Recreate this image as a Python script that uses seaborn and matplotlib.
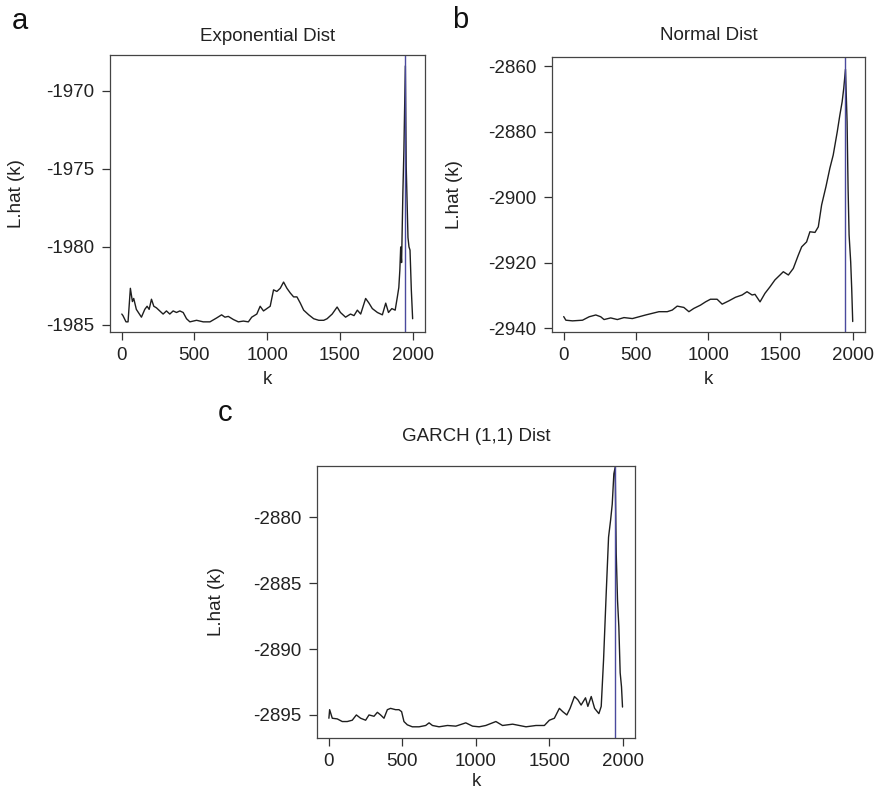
import numpy as np
import matplotlib
matplotlib.use("Agg")
import matplotlib.pyplot as plt
import seaborn as sns

# ---- data ----
# panel a: exponential
k_exp = [1, 9, 30, 44, 60, 74, 83, 101, 136, 159,
         175, 189, 205, 221, 239, 262, 285, 308, 331, 354,
         377, 400, 423, 446, 469, 515, 561, 607, 653, 687,
         710, 733, 768, 802, 837, 871, 894, 929, 952, 975,
         998, 1021, 1044, 1067, 1090, 1113, 1136, 1159, 1182, 1205,
         1228, 1251, 1286, 1320, 1355, 1389, 1412, 1447, 1481, 1504,
         1539, 1573, 1597, 1620, 1643, 1677, 1700, 1723, 1758, 1792,
         1815, 1834, 1857, 1880, 1895, 1905, 1912, 1918, 1924, 1933,
         1940, 1950, 1956, 1968, 1975, 1982, 1991, 2000]
l_exp = [-1984.3, -1984.4, -1984.8, -1984.8, -1982.65, -1983.5, -1983.3, -1984.0, -1984.5, -1984.0,
         -1983.8, -1984.0, -1983.35, -1983.8, -1983.9, -1984.1, -1984.3, -1984.1, -1984.3, -1984.1,
         -1984.2, -1984.1, -1984.2, -1984.6, -1984.8, -1984.7, -1984.8, -1984.8, -1984.55, -1984.35,
         -1984.5, -1984.45, -1984.65, -1984.8, -1984.75, -1984.8, -1984.5, -1984.3, -1983.8, -1984.1,
         -1983.95, -1983.8, -1982.75, -1982.85, -1982.65, -1982.25, -1982.65, -1982.95, -1983.2, -1983.2,
         -1983.6, -1984.05, -1984.35, -1984.6, -1984.7, -1984.7, -1984.6, -1984.3, -1983.85, -1984.2,
         -1984.5, -1984.3, -1984.4, -1984.05, -1984.3, -1983.3, -1983.6, -1983.95, -1984.2, -1984.35,
         -1983.6, -1984.2, -1983.95, -1984.05, -1983.2, -1982.6, -1981.5, -1980.0, -1981.0, -1976.5,
         -1973.8, -1968.4, -1974.9, -1979.4, -1980.0, -1980.2, -1982.75, -1984.6]

# panel b: normal
k_norm = [1, 16, 62, 131, 177, 223, 257, 280, 326, 372,
          418, 476, 522, 568, 614, 660, 717, 752, 786, 832,
          867, 901, 947, 982, 1016, 1062, 1097, 1143, 1189, 1235,
          1269, 1304, 1324, 1359, 1393, 1428, 1462, 1497, 1520, 1555,
          1589, 1624, 1647, 1681, 1704, 1739, 1762, 1785, 1815, 1842,
          1865, 1893, 1911, 1927, 1938, 1950, 1961, 1968, 1975, 1986,
          1993, 2000]
l_norm = [-2936.5, -2937.6, -2937.8, -2937.6, -2936.55, -2936.0, -2936.55, -2937.4, -2936.9, -2937.4,
          -2936.8, -2937.1, -2936.55, -2936.0, -2935.5, -2935.0, -2935.0, -2934.5, -2933.3, -2933.7,
          -2935.0, -2934.0, -2933.0, -2932.0, -2931.2, -2931.2, -2932.7, -2931.7, -2930.6, -2929.9,
          -2928.9, -2929.9, -2929.7, -2932.0, -2929.4, -2927.4, -2925.3, -2923.8, -2922.8, -2923.8,
          -2921.8, -2917.7, -2915.2, -2913.7, -2910.6, -2910.8, -2909.1, -2902.4, -2896.8, -2891.2,
          -2887.2, -2880.1, -2875.0, -2870.9, -2866.8, -2861.0, -2877.0, -2897.4, -2911.6, -2919.8,
          -2927.9, -2938.0]

# panel c: GARCH(1,1)
k_garch = [1, 6, 24, 58, 92, 126, 160, 188, 217, 251,
           274, 308, 331, 353, 376, 399, 421, 455, 478, 496,
           512, 535, 569, 615, 660, 683, 706, 751, 808, 865,
           933, 979, 1024, 1069, 1138, 1183, 1252, 1343, 1411, 1468,
           1502, 1536, 1570, 1593, 1621, 1643, 1673, 1696, 1718, 1748,
           1764, 1787, 1810, 1839, 1855, 1871, 1889, 1905, 1919, 1930,
           1941, 1950, 1957, 1966, 1975, 1984, 1993, 2000]
l_garch = [-2895.25, -2894.6, -2895.25, -2895.3, -2895.5, -2895.5, -2895.4, -2895.0, -2895.25, -2895.4,
           -2895.0, -2895.1, -2894.8, -2895.0, -2895.25, -2894.6, -2894.5, -2894.6, -2894.6, -2894.75,
           -2895.5, -2895.75, -2895.9, -2895.9, -2895.8, -2895.6, -2895.8, -2895.9, -2895.8, -2895.85,
           -2895.6, -2895.85, -2895.9, -2895.8, -2895.5, -2895.8, -2895.7, -2895.9, -2895.8, -2895.8,
           -2895.4, -2895.25, -2894.5, -2894.75, -2895.0, -2894.5, -2893.6, -2893.85, -2894.25, -2893.7,
           -2894.35, -2893.6, -2894.5, -2894.9, -2894.35, -2890.8, -2885.75, -2881.5, -2880.2, -2879.0,
           -2876.7, -2876.2, -2882.7, -2886.3, -2888.3, -2891.8, -2892.85, -2894.4]

k_hat = 1950  # estimated change point (blue line)

titles = ["Exponential Dist", "Normal Dist", "GARCH (1,1) Dist"]
letters = ["a", "b", "c"]
x_ticks = [0, 500, 1000, 1500, 2000]
y_ticks = [[-1970, -1975, -1980, -1985],
           [-2860, -2880, -2900, -2920, -2940],
           [-2880, -2885, -2890, -2895]]
y_lims = [(-1985.45, -1967.7), (-2941.2, -2857.25), (-2896.75, -2876.1)]

# ---- style ----
sns.set_style("ticks")
plt.rcParams["font.family"] = ["Liberation Sans", "DejaVu Sans"]
plt.rcParams["axes.unicode_minus"] = False

W, H = 877, 797
fig = plt.figure(figsize=(W / 100, H / 100), dpi=100)

# axes boxes in pixels: left, top, right, bottom
boxes = [(110, 55, 425, 332), (552, 57, 865, 332), (317, 466, 635, 738)]
ylab_x = [-0.27, -0.284, -0.29]
xlab_y = [-0.14, -0.14, -0.13]
title_pad = [10, 12, 18]
letter_pos = [(20, 21), (460, 20), (225, 413)]

series = [(k_exp, l_exp), (k_norm, l_norm), (k_garch, l_garch)]

for i, (kk, ll) in enumerate(series):
    l, t, r, b = boxes[i]
    ax = fig.add_axes([l / W, 1 - b / H, (r - l) / W, (b - t) / H])
    sns.lineplot(x=kk, y=ll, ax=ax, color="#1e1e1e", linewidth=1.0)
    ax.axvline(k_hat, color="#4a4a9e", linewidth=1.0)

    ax.set_xlim(-80, 2085)
    ax.set_ylim(*y_lims[i])
    ax.set_xticks(x_ticks)
    ax.set_yticks(y_ticks[i])
    ax.set_yticklabels([str(v) for v in y_ticks[i]])
    ax.tick_params(axis="both", direction="out", length=6, width=0.9,
                   pad=5, labelsize=13.5, color="#333333", labelcolor="#222222")
    for s in ax.spines.values():
        s.set_color("#444444")
        s.set_linewidth(0.9)

    ax.set_title(titles[i], fontsize=13.5, color="#222222", pad=title_pad[i])
    ax.set_xlabel("k", fontsize=13.5, color="#222222")
    ax.set_ylabel("L.hat (k)", fontsize=13.5, color="#222222")
    ax.xaxis.set_label_coords(0.5, xlab_y[i])
    ax.yaxis.set_label_coords(ylab_x[i], 0.5)

    lx, ly = letter_pos[i]
    fig.text(lx / W, 1 - ly / H, letters[i], fontsize=21, color="#111111",
             ha="center", va="center")

fig.savefig("out.png", dpi=100, facecolor="white")
